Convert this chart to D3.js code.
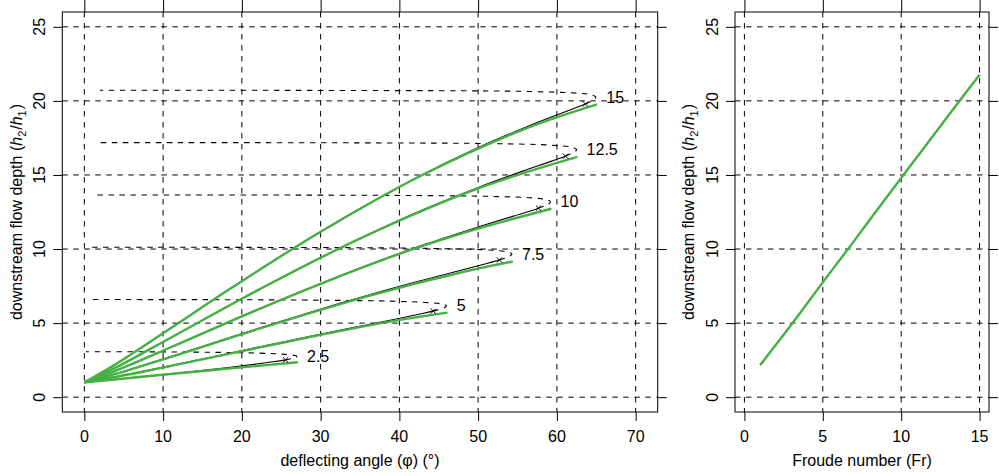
<!DOCTYPE html>
<html><head><meta charset="utf-8">
<script src="https://cdn.jsdelivr.net/npm/d3@7"></script>
<style>
body{margin:0;background:#fff;}
text{font-family:"Liberation Sans",Arial,Helvetica,sans-serif;fill:#000;}
</style>
</head><body>
<svg id="chart" width="999" height="476"></svg>
<script>
// ---------------- data ----------------
const froude = [2.5, 5, 7.5, 10, 12.5, 15];
const froudeLabels = ["2.5", "5", "7.5", "10", "12.5", "15"];

// weak branch (solid black), deflecting angle (deg) / depth ratio
const weakAngle = [
  [0,1.57,3.67,6.65,10.33,14.54,18.30,21.55,24.20,25.55],
  [0,1.81,4.14,7.43,11.58,16.50,22.14,28.36,34.14,39.29,42.94,44.3],
  [0,1.68,4.01,7.27,11.42,16.41,22.23,28.80,36.02,42.77,48.05,51.23,52.7],
  [0,1.58,3.88,7.11,11.22,16.22,22.10,28.81,36.27,43.43,50.08,54.48,56.90,57.66],
  [0,1.75,4.00,7.18,11.26,16.26,22.16,28.94,35.59,42.98,50.02,55.67,59.15,61.1],
  [0,1.46,3.70,6.86,10.94,14.94,18.90,23.81,29.64,36.35,42.92,50.16,56.11,60.65,63.62]
];
const weakDepth = [
  [1,1.076,1.181,1.337,1.539,1.781,2.007,2.215,2.404,2.517],
  [1,1.167,1.397,1.742,2.196,2.749,3.384,4.072,4.696,5.242,5.644,5.81],
  [1,1.233,1.585,2.114,2.816,3.674,4.667,5.755,6.886,7.873,8.605,9.046,9.26],
  [1,1.295,1.768,2.483,3.430,4.592,5.940,7.425,8.976,10.35,11.50,12.22,12.62,12.76],
  [1,1.414,2.010,2.910,4.103,5.566,7.265,9.141,10.87,12.65,14.16,15.26,15.90,16.27],
  [1,1.415,2.133,3.218,4.657,6.075,7.462,9.144,11.07,13.14,15.02,16.88,18.24,19.18,19.79]
];
// strong branch (dashed black)
const strongAngle = [
  [25.55,25.79,26.76,26.96,26.94,26.68,26.15,24.09,20.47,15.11,9.98,5.13,2.07,0.21],
  [44.3,44.76,45.41,45.83,45.97,45.76,43.84,38.82,31.75,22.84,13.54,5.56,0.56],
  [52.7,53.53,54.07,54.28,54.24,53.26,50.33,43.95,33.95,21.32,9.02,0.91],
  [57.66,57.89,58.64,59.09,59.17,58.95,57.12,51.99,42.47,28.28,12.40,1.27],
  [61.1,61.32,62.07,62.46,62.48,62.03,59.30,51.27,38.96,22.72,8.03,1.62],
  [63.62,64.43,64.89,64.93,64.47,62.87,56.02,51.32,44.32,33.86,26.97,15.34,9.75,4.92,1.97]
];
const strongDepth = [
  [2.517,2.540,2.662,2.717,2.768,2.816,2.860,2.935,2.994,3.037,3.057,3.068,3.070,3.071],
  [5.81,5.875,5.979,6.075,6.163,6.244,6.379,6.482,6.536,6.570,6.585,6.589,6.589],
  [9.26,9.414,9.541,9.655,9.708,9.846,9.957,10.04,10.09,10.11,10.12,10.12],
  [12.76,12.80,12.96,13.10,13.20,13.29,13.44,13.55,13.61,13.64,13.65,13.65],
  [16.27,16.32,16.50,16.66,16.73,16.86,17.01,17.12,17.16,17.18,17.18,17.18],
  [19.79,20.00,20.18,20.26,20.40,20.51,20.64,20.67,20.69,20.70,20.71,20.72,20.72,20.72,20.72]
];
// approximation (green)
const fitAngle = [
  [0,7,14,21,27.1],
  [0,7.43,16.5,28.36,39.29,46.1],
  [0,4.01,11.42,22.23,36.02,48.05,54.4],
  [0,3.88,11.22,22.10,36.27,43.43,50.08,59.3],
  [0,4.0,11.26,22.16,35.59,50.02,62.6],
  [0,3.70,10.94,18.90,29.64,42.92,56.11,65.1]
];
const fitDepth = [
  [1,1.36,1.72,2.06,2.36],
  [1,1.72,2.72,4.03,5.15,5.71],
  [1,1.57,2.79,4.63,6.82,8.45,9.16],
  [1,1.76,3.42,5.93,8.95,10.30,11.40,12.72],
  [1,2.0,4.10,7.26,10.86,14.10,16.22],
  [1,2.13,4.65,7.45,11.05,15.0,18.15,19.77]
];
// critical (x) markers
const markAngle = [25.55, 44.3, 52.7, 57.66, 61.1, 63.62];
const markDepth = [2.52, 5.81, 9.26, 12.76, 16.27, 19.79];
// curve tips (label anchors)
const tipAngle = [27.0, 46.0, 54.3, 59.2, 62.5, 65.0];
const tipDepth = [2.76, 6.2, 9.68, 13.2, 16.74, 20.26];

// right panel
const frRight = [1, 3, 5, 7, 9, 11, 13, 15];
const depthRight = [2.16, 4.9, 7.75, 10.55, 13.4, 16.2, 19.0, 21.77];

// ticks
const xTicksLeft = [0, 10, 20, 30, 40, 50, 60, 70];
const xTicksRight = [0, 5, 10, 15];
const yTicks = [0, 5, 10, 15, 20, 25];

// ---------------- drawing ----------------
const svg = d3.select("#chart");
const GREEN = "#45b043";
const DASH = "5.5,5.5";
const TOP = 12, BOTTOM = 412;

const y = d3.scaleLinear().domain([-1, 26]).range([BOTTOM, TOP]);
const xL = d3.scaleLinear().domain([-2.8, 72.8]).range([62.3, 657.7]);
const xR = d3.scaleLinear().domain([-0.6, 15.6]).range([735, 989]);

function panel(x, xTicks, xTitle) {
  const g = svg.append("g");
  const [L, R] = x.range();
  // grid
  g.selectAll(".gv").data(xTicks).join("line")
    .attr("x1", d => x(d)).attr("x2", d => x(d))
    .attr("y1", TOP).attr("y2", BOTTOM)
    .attr("stroke", "#000").attr("stroke-width", 1).attr("stroke-dasharray", DASH);
  g.selectAll(".gh").data(yTicks).join("line")
    .attr("x1", L).attr("x2", R)
    .attr("y1", d => y(d)).attr("y2", d => y(d))
    .attr("stroke", "#000").attr("stroke-width", 1).attr("stroke-dasharray", DASH);
  // box
  g.append("rect").attr("x", L).attr("y", TOP).attr("width", R - L).attr("height", BOTTOM - TOP)
    .attr("fill", "none").attr("stroke", "#000").attr("stroke-width", 1);
  // axes
  g.append("g").attr("transform", `translate(0,${BOTTOM})`)
    .call(d3.axisBottom(x).tickValues(xTicks).tickSize(9).tickFormat(""))
    .call(a => a.select(".domain").remove());
  g.append("g").attr("transform", `translate(0,${TOP})`)
    .call(d3.axisTop(x).tickValues(xTicks).tickSize(12).tickFormat(""))
    .call(a => a.select(".domain").remove());
  g.append("g").attr("transform", `translate(${L},0)`)
    .call(d3.axisLeft(y).tickValues(yTicks).tickSize(9).tickFormat(""))
    .call(a => a.select(".domain").remove());
  g.append("g").attr("transform", `translate(${R},0)`)
    .call(d3.axisRight(y).tickValues(yTicks).tickSize(9).tickFormat(""))
    .call(a => a.select(".domain").remove());
  g.selectAll(".tick line").attr("stroke", "#000").attr("stroke-width", 1);
  // tick labels
  g.selectAll(".xl").data(xTicks).join("text")
    .attr("x", d => x(d)).attr("y", 442).attr("text-anchor", "middle")
    .attr("font-size", 16).text(d => d);
  g.selectAll(".yl").data(yTicks).join("text")
    .attr("transform", d => `translate(${L - 17.3},${y(d)}) rotate(-90)`)
    .attr("text-anchor", "middle").attr("font-size", 16).text(d => d);
  // titles
  g.append("text").attr("x", (L + R) / 2).attr("y", 466).attr("text-anchor", "middle")
    .attr("font-size", 16).text(xTitle);
  const t = g.append("text")
    .attr("transform", `translate(${L - 40.8},${(TOP + BOTTOM) / 2}) rotate(-90)`)
    .attr("text-anchor", "middle").attr("font-size", 16);
  t.append("tspan").text("downstream flow depth (");
  t.append("tspan").attr("font-style", "italic").text("h");
  t.append("tspan").attr("font-size", 11).attr("dy", 4).text("2");
  t.append("tspan").attr("dy", -4).attr("dx", 1).text("/");
  t.append("tspan").attr("font-style", "italic").text("h");
  t.append("tspan").attr("font-size", 11).attr("dy", 4).text("1");
  t.append("tspan").attr("dy", -4).attr("dx", 1).text(")");
  return g;
}

const gL = panel(xL, xTicksLeft, "deflecting angle (\u03c6) (\u00b0)");
const gR = panel(xR, xTicksRight, "Froude number (Fr)");

const lineL = d3.line().x(d => xL(d[0])).y(d => y(d[1])).curve(d3.curveCatmullRom.alpha(0.5));
const zip = (a, b) => a.map((v, i) => [v, b[i]]);

froude.forEach((f, i) => {
  gL.append("path").attr("d", lineL(zip(weakAngle[i], weakDepth[i])))
    .attr("fill", "none").attr("stroke", "#000").attr("stroke-width", 1.1);
  gL.append("path").attr("d", lineL(zip(strongAngle[i], strongDepth[i])))
    .attr("fill", "none").attr("stroke", "#000").attr("stroke-width", 1.1)
    .attr("stroke-dasharray", DASH);
});
froude.forEach((f, i) => {
  gL.append("path").attr("d", lineL(zip(fitAngle[i], fitDepth[i])))
    .attr("fill", "none").attr("stroke", GREEN).attr("stroke-width", 2.4);
});
// markers
froude.forEach((f, i) => {
  const cx = xL(markAngle[i]), cy = y(markDepth[i]), s = 2.6;
  gL.append("path").attr("d", `M${cx - s},${cy - s}L${cx + s},${cy + s}M${cx - s},${cy + s}L${cx + s},${cy - s}`)
    .attr("stroke", "#000").attr("stroke-width", 1);
});
// labels
gL.selectAll(".fr").data(froude).join("text")
  .attr("x", (d, i) => xL(tipAngle[i]) + 10)
  .attr("y", (d, i) => y(tipDepth[i]))
  .attr("dy", "0.36em").attr("font-size", 16)
  .text((d, i) => froudeLabels[i]);

// right panel
const lineR = d3.line().x(d => xR(d[0])).y(d => y(d[1])).curve(d3.curveCatmullRom.alpha(0.5));
gR.append("path").attr("d", lineR(zip(frRight, depthRight)))
  .attr("fill", "none").attr("stroke", GREEN).attr("stroke-width", 2.4);
</script>
</body></html>
